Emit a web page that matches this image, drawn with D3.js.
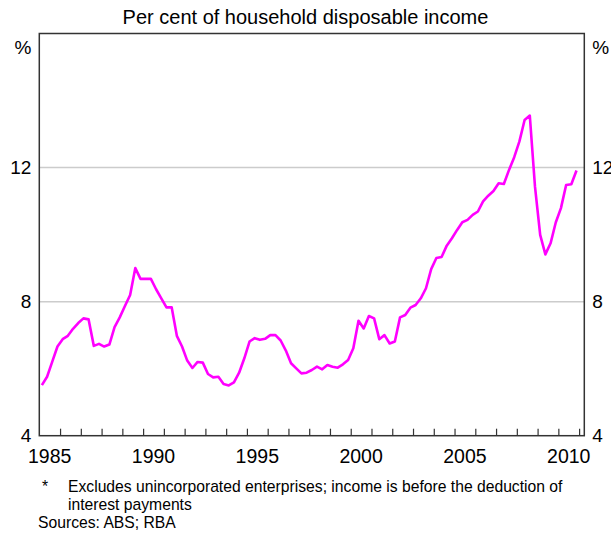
<html>
  <head>
    <title>Household ratio</title>
    <style>
      body {
        margin: 0;
        font-family: "Liberation Sans", Arial, sans-serif;
        background: #fff;
      }
      svg {
        display: block;
      }
      .grid line {
        stroke: #cccccc;
        stroke-width: 1.5;
      }
    </style>
    <script src="https://cdn.jsdelivr.net/npm/d3@7"></script>
  </head>
  <body>
    <div id="chart"></div>
    <script>
      // quarterly series, first quarter of 1985 to last quarter of 2010
      const firstYear = 1985;
      const ratio = [
        5.51, 5.76, 6.21, 6.66, // 1985
        6.88, 6.98, 7.19, 7.36, // 1986
        7.50, 7.47, 6.68, 6.74, // 1987
        6.66, 6.72, 7.24, 7.53, // 1988
        7.87, 8.20, 9.00, 8.68, // 1989
        8.68, 8.68, 8.37, 8.10, // 1990
        7.83, 7.83, 6.98, 6.66, // 1991
        6.24, 6.02, 6.20, 6.18, // 1992
        5.84, 5.74, 5.76, 5.54, // 1993
        5.50, 5.59, 5.88, 6.31, // 1994
        6.81, 6.91, 6.86, 6.89, // 1995
        7.00, 7.00, 6.84, 6.54, // 1996
        6.16, 6.01, 5.86, 5.88, // 1997
        5.96, 6.06, 5.98, 6.11, // 1998
        6.06, 6.03, 6.13, 6.26, // 1999
        6.61, 7.43, 7.20, 7.57, // 2000
        7.50, 6.88, 7.00, 6.75, // 2001
        6.81, 7.53, 7.60, 7.82, // 2002
        7.90, 8.10, 8.40, 8.97, // 2003
        9.30, 9.33, 9.67, 9.89, // 2004
        10.14, 10.37, 10.44, 10.59, // 2005
        10.69, 10.99, 11.16, 11.30, // 2006
        11.53, 11.51, 11.93, 12.31, // 2007
        12.78, 13.42, 13.55, 11.43, // 2008
        9.99, 9.41, 9.74, 10.36, // 2009
        10.79, 11.48, 11.50, 11.91, // 2010
      ];
      const yTicks = [4, 8, 12];
      const gridValues = [8, 12];
      const yearLabels = [1985, 1990, 1995, 2000, 2005, 2010];
      const subtitle = "Per cent of household disposable income";
      const notes = [
        { mark: "*", text: "Excludes unincorporated enterprises; income is before the deduction of" },
        { mark: "", text: "interest payments" },
      ];
      const sources = "Sources: ABS; RBA";

      const width = 611,
        height = 537;
      const margin = { top: 33.5, right: 26.7, bottom: 101.3, left: 39.3 };

      const svg = d3
        .select("#chart")
        .append("svg")
        .attr("width", width)
        .attr("height", height)
        .attr("viewBox", [0, 0, width, height]);

      const x = d3
        .scaleLinear()
        .domain([1985, 2011.25])
        .range([margin.left, width - margin.right]);

      const y = d3
        .scaleLinear()
        .domain([4, 16])
        .range([height - margin.bottom, margin.top]);

      const data = ratio.map((v, i) => ({
        t: firstYear + Math.floor(i / 4) + ((i % 4) + 0.5) / 4,
        v: v,
      }));

      // gridlines
      svg
        .append("g")
        .attr("class", "grid")
        .selectAll("line")
        .data(gridValues)
        .join("line")
        .attr("x1", x.range()[0])
        .attr("x2", x.range()[1])
        .attr("y1", (d) => y(d))
        .attr("y2", (d) => y(d));

      // series
      const line = d3
        .line()
        .x((d) => x(d.t))
        .y((d) => y(d.v));

      svg
        .append("path")
        .datum(data)
        .attr("fill", "none")
        .attr("stroke", "#ff00ff")
        .attr("stroke-width", 2.6)
        .attr("stroke-linejoin", "round")
        .attr("d", line);

      // frame
      svg
        .append("rect")
        .attr("x", x.range()[0])
        .attr("y", y.range()[1])
        .attr("width", x.range()[1] - x.range()[0])
        .attr("height", y.range()[0] - y.range()[1])
        .attr("fill", "none")
        .attr("stroke", "#333")
        .attr("stroke-width", 1.5);

      // year ticks along the bottom, pointing inward
      const xAxis = d3
        .axisBottom(x)
        .tickValues(d3.range(1986, 2012))
        .tickSize(-7)
        .tickFormat("");
      svg
        .append("g")
        .attr("transform", `translate(0,${y.range()[0]})`)
        .call(xAxis)
        .call((g) => g.select(".domain").remove())
        .call((g) => g.selectAll(".tick line").attr("stroke", "#333").attr("stroke-width", 1.2));

      // year labels centred on mid-year
      svg
        .append("g")
        .attr("font-size", 19.5)
        .attr("text-anchor", "middle")
        .selectAll("text")
        .data(yearLabels)
        .join("text")
        .attr("x", (d) => x(d + 0.5))
        .attr("y", y.range()[0] + 27)
        .text((d) => d);

      // y labels on both sides
      const yLeft = d3.axisLeft(y).tickValues(yTicks).tickSize(0).tickPadding(8);
      const yRight = d3.axisRight(y).tickValues(yTicks).tickSize(0).tickPadding(8);
      svg
        .append("g")
        .attr("transform", `translate(${x.range()[0]},0)`)
        .call(yLeft)
        .call((g) => g.select(".domain").remove())
        .call((g) => g.selectAll("text").attr("font-size", 19).attr("font-family", "Liberation Sans, Arial, sans-serif").attr("fill", "#000"));
      svg
        .append("g")
        .attr("transform", `translate(${x.range()[1]},0)`)
        .call(yRight)
        .call((g) => g.select(".domain").remove())
        .call((g) => g.selectAll("text").attr("font-size", 19).attr("font-family", "Liberation Sans, Arial, sans-serif").attr("fill", "#000"));

      // unit labels
      svg
        .append("text")
        .attr("x", x.range()[0] - 8)
        .attr("y", 54)
        .attr("text-anchor", "end")
        .attr("font-size", 19)
        .text("%");
      svg
        .append("text")
        .attr("x", x.range()[1] + 8)
        .attr("y", 54)
        .attr("font-size", 19)
        .text("%");

      // subtitle
      svg
        .append("text")
        .attr("x", width / 2)
        .attr("y", 24)
        .attr("text-anchor", "middle")
        .attr("font-size", 20)
        .text(subtitle);

      // footnotes
      const foot = svg.append("g").attr("font-size", 15.7);
      notes.forEach((n, i) => {
        foot.append("text").attr("x", 42).attr("y", 492 + i * 18).text(n.mark);
        foot.append("text").attr("x", 68).attr("y", 492 + i * 18).text(n.text);
      });
      foot.append("text").attr("x", 38).attr("y", 528).text(sources);
    </script>
  </body>
</html>
